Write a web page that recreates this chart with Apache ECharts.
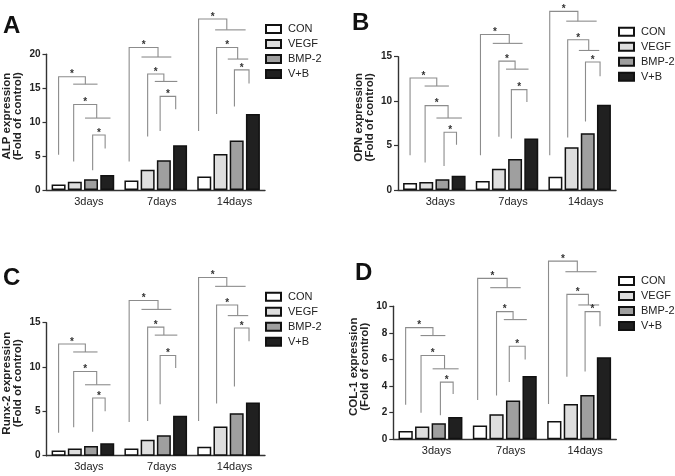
<!DOCTYPE html>
<html><head><meta charset="utf-8">
<script src="https://cdn.jsdelivr.net/npm/echarts@6/dist/echarts.min.js"></script>
<style>html,body{margin:0;padding:0;background:#fff}#c{width:675px;height:476px}</style>
</head><body><div id="c"></div>
<script>
const categories = ['3days', '7days', '14days'];
const seriesNames = ['CON', 'VEGF', 'BMP-2', 'V+B'];
const panelLetters = ['A', 'B', 'C', 'D'];
const yNames = ['ALP expression\n(Fold of control)', 'OPN expression\n(Fold of control)', 'Runx-2 expression\n(Fold of control)', 'COL-1 expression\n(Fold of control)'];
const yMax = [20, 15, 15, 10];
const yInterval = [5, 5, 5, 2];

// bar values per panel: [CON, VEGF, BMP-2, V+B], each over 3days/7days/14days
const alpCON = [0.8, 1.4, 2.0], alpVEGF = [1.2, 3.0, 5.3], alpBMP2 = [1.6, 4.4, 7.3], alpVB = [2.2, 6.6, 11.2];
const opnCON = [0.8, 1.0, 1.5], opnVEGF = [0.9, 2.4, 4.8], opnBMP2 = [1.2, 3.5, 6.4], opnVB = [1.6, 5.8, 9.6];
const runxCON = [0.6, 0.8, 1.0], runxVEGF = [0.8, 1.8, 3.3], runxBMP2 = [1.1, 2.3, 4.8], runxVB = [1.4, 4.5, 6.0];
const colCON = [0.63, 1.03, 1.38], colVEGF = [0.97, 1.88, 2.66], colBMP2 = [1.2, 2.92, 3.33], colVB = [1.68, 4.76, 6.17];

// significance brackets (bar-index units): [leftBar, rightBar, crossFrom, crossTo] per group, 3 brackets each
const bracketBars = [
  [[0, 1.65, 0.9, 2.4], [0.93, 2.35, 1.63, 3.2], [2.1, 2.87, null, null]],
  [[-0.14, 1.64, 0.62, 2.46], [1.0, 2.0, 1.44, 2.83], [1.77, 2.73, null, null]],
  [[-0.35, 1.39, 0.67, 2.55], [0.76, 2.06, 1.45, 2.71], [1.86, 2.76, null, null]]
];
// bracket values [legBottom, top, rightEnd] per group per bracket
const alpBr = [[[5.2, 16.7, 15.6], [4.2, 12.6, 10.6], [2.9, 8.1, 6.1]],
               [[4.2, 21.0, 19.6], [7.9, 17.1, 16.0], [8.7, 13.8, 11.9]],
               [[8.7, 25.2, 23.6], [11.2, 21.0, 19.3], [12.3, 17.7, 15.7]]];
const opnBr = [[[3.9, 12.6, 11.7], [3.1, 9.5, 8.1], [2.7, 6.5, 5.1]],
               [[3.9, 17.5, 16.5], [6.0, 14.5, 13.6], [5.8, 11.3, 9.9]],
               [[3.9, 20.1, 19.0], [5.9, 16.9, 15.7], [7.7, 14.4, 12.8]]];
const runxBr = [[[2.6, 12.6, 11.7], [3.2, 9.5, 8.0], [2.7, 6.5, 5.0]],
                [[3.8, 17.5, 16.5], [3.9, 14.5, 13.6], [5.8, 11.3, 9.9]],
                [[3.9, 20.1, 19.1], [5.9, 17.0, 15.8], [7.8, 14.4, 12.9]]];
const colBr = [[[2.6, 8.4, 7.8], [2.0, 6.3, 5.3], [1.8, 4.3, 3.4]],
               [[2.96, 12.1, 11.4], [3.3, 9.6, 9.0], [4.3, 7.0, 6.0]],
               [[2.66, 13.4, 12.6], [4.7, 10.9, 10.1], [5.1, 9.6, 8.5]]];

const panelValues = [
  [alpCON, alpVEGF, alpBMP2, alpVB],
  [opnCON, opnVEGF, opnBMP2, opnVB],
  [runxCON, runxVEGF, runxBMP2, runxVB],
  [colCON, colVEGF, colBMP2, colVB]
];
const panelBrackets = [alpBr, opnBr, runxBr, colBr];

const FONT = '"Liberation Sans", Arial, Helvetica, sans-serif';
const fills = ['#ffffff', '#dedede', '#9f9f9f', '#202020'];
const CAT_GAP = 0.14, BAR_GAP = 0.16;

const grids = [
  {left: 45, top: 54.3, width: 220, height: 135.7},
  {left: 398, top: 56.7, width: 218, height: 133.3},
  {left: 45, top: 322.7, width: 220, height: 133},
  {left: 393.3, top: 306.3, width: 223, height: 133}
];
const legendPos = [
  {left: 265, top: 23.5},
  {left: 618, top: 26.2},
  {left: 265, top: 291.2},
  {left: 618, top: 275.5}
];
const letterPos = [[3, 26], [352, 23.5], [3, 278.5], [355, 273.5]];

function renderBracket(params, api) {
  const g = api.value(0);
  const c = api.coord([g, 0]);
  const W = api.size([1, 0])[0];
  const groupW = W * (1 - CAT_GAP);
  const w = groupW / (4 + 3 * BAR_GAP);
  const step = w * (1 + BAR_GAP);
  const x0 = c[0] - groupW / 2 + w / 2;
  const bx = b => x0 + b * step;
  const yv = v => api.coord([g, v])[1];
  const xl = bx(api.value(1)), xr = bx(api.value(2));
  const yb = yv(api.value(5)), yt = yv(api.value(6)), ye = yv(api.value(7));
  const lineStyle = {stroke: '#8c8c8c', lineWidth: 1.1, fill: null};
  const children = [{
    type: 'polyline',
    shape: {points: [[xl, yb], [xl, yt], [xr, yt], [xr, ye]]},
    style: lineStyle
  }];
  const cf = api.value(3);
  if (cf !== null && cf !== undefined && !isNaN(cf)) {
    children.push({
      type: 'line',
      shape: {x1: bx(cf), y1: ye, x2: bx(api.value(4)), y2: ye},
      style: lineStyle
    });
  }
  children.push({
    type: 'text',
    style: {text: '*', x: (xl + xr) / 2, y: yt + 3, align: 'center', verticalAlign: 'bottom',
            font: 'bold 10px ' + FONT, fill: '#333'}
  });
  return {type: 'group', children: children};
}

const option = {
  animation: false,
  backgroundColor: '#fff',
  grid: grids.map(g => Object.assign({containLabel: false}, g)),
  xAxis: grids.map((g, i) => ({
    type: 'category', gridIndex: i, data: categories,
    axisLine: {lineStyle: {color: '#333', width: 1.4}},
    axisTick: {alignWithLabel: true, length: 4, lineStyle: {color: '#333', width: 1.2}},
    axisLabel: {color: '#222', fontSize: 11, fontFamily: FONT, margin: 6, padding: [0, 0, 0, 12]}
  })),
  yAxis: grids.map((g, i) => ({
    type: 'value', gridIndex: i, min: 0, max: yMax[i], interval: yInterval[i],
    name: yNames[i], nameLocation: 'middle', nameGap: 23,
    nameTextStyle: {fontSize: 11.5, fontWeight: 'bold', fontFamily: FONT, color: '#222', lineHeight: 11, padding: [0, 0, 0, 12]},
    splitLine: {show: false},
    axisLine: {show: true, lineStyle: {color: '#333', width: 1.4}},
    axisTick: {show: true, length: 4, lineStyle: {color: '#333', width: 1.2}},
    axisLabel: {color: '#222', fontSize: 10, fontWeight: 'bold', fontFamily: FONT, margin: 6}
  })),
  legend: legendPos.map(p => ({
    orient: 'vertical', left: p.left, top: p.top, data: seriesNames, padding: 0,
    itemWidth: 15, itemHeight: 8, itemGap: 4, icon: 'rect', selectedMode: false,
    textStyle: {fontSize: 11, fontFamily: FONT, color: '#222', lineHeight: 11, padding: [0, 0, 0, 2]}
  })),
  graphic: panelLetters.map((L, i) => ({
    type: 'text', left: letterPos[i][0], top: letterPos[i][1] - 12,
    style: {text: L, font: 'bold 24px ' + FONT, fill: '#111'}
  })),
  series: []
};

panelValues.forEach((vals, p) => {
  vals.forEach((arr, s) => {
    option.series.push({
      type: 'bar', name: seriesNames[s], xAxisIndex: p, yAxisIndex: p, data: arr,
      barCategoryGap: (CAT_GAP * 100) + '%', barGap: (BAR_GAP * 100) + '%',
      itemStyle: {color: fills[s], borderColor: '#111', borderWidth: 1.5}
    });
  });
  const rows = [];
  panelBrackets[p].forEach((grp, g) => {
    grp.forEach((br, k) => {
      const xb = bracketBars[g][k];
      rows.push([g, xb[0], xb[1], xb[2] === null ? NaN : xb[2], xb[3] === null ? NaN : xb[3], br[0], br[1], br[2]]);
    });
  });
  option.series.push({
    type: 'custom', xAxisIndex: p, yAxisIndex: p, clip: false, silent: true,
    renderItem: renderBracket, data: rows, z: 5
  });
});

const chart = echarts.init(document.getElementById('c'), null, {renderer: 'canvas'});
chart.setOption(option);
</script>
</body></html>
